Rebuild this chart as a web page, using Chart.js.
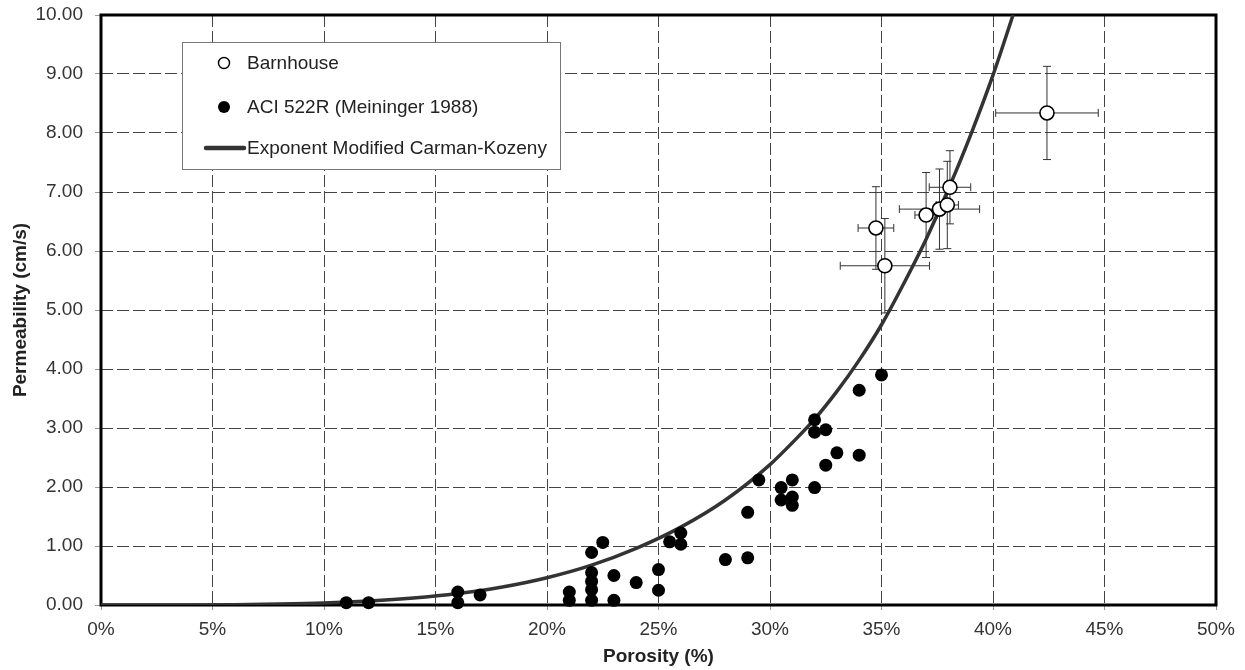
<!DOCTYPE html>
<html>
<head>
<meta charset="utf-8">
<script src="https://cdn.jsdelivr.net/npm/chart.js@4"></script>
<style>
  body { margin: 0; background: #fff; }
  canvas { display: block; }
</style>
</head>
<body>
<canvas id="chart" width="1245" height="670"></canvas>
<script>
// ---------------- Data (porosity in %, permeability in cm/s) ----------------
const barnX    = [34.75, 35.15, 37.0, 37.6, 37.95, 38.07, 42.42];
const barnY    = [6.39, 5.75, 6.61, 6.71, 6.78, 7.08, 8.34];
const barnXErr = [0.8, 2.0, 0.5, 1.8, 0.5, 0.93, 2.3];
const barnYErr = [0.70, 0.80, 0.72, 0.68, 0.74, 0.62, 0.79];

const aciX = [11, 12, 16, 16, 17, 21, 21, 22, 22, 22, 22, 22, 22.5, 23, 23, 24, 25, 25,
              25.5, 26, 26, 28, 29, 29, 29.5, 30.5, 30.5, 31, 31, 31, 32, 32, 32,
              32.5, 32.5, 33, 34, 34, 35];
const aciY = [0.04, 0.04, 0.22, 0.04, 0.17, 0.22, 0.08, 0.89, 0.55, 0.40, 0.26, 0.08, 1.06, 0.50, 0.08, 0.38, 0.60, 0.25,
              1.07, 1.22, 1.03, 0.77, 1.57, 0.80, 2.12, 1.99, 1.78, 2.12, 1.83, 1.69, 3.14, 2.93, 1.99,
              2.97, 2.37, 2.58, 3.64, 2.54, 3.90];

const curveX = [0, 2, 4, 6, 8, 10, 12, 14, 16, 18, 20, 22, 24, 26, 28, 30, 31, 32, 33, 34, 35, 36, 37, 38, 39, 40, 40.9];
const curveY = [0, 0, 0.001, 0.005, 0.015, 0.033, 0.066, 0.117, 0.194, 0.306, 0.463, 0.676, 0.96, 1.32, 1.78, 2.38,
                2.75, 3.15, 3.62, 4.15, 4.75, 5.45, 6.2, 7.05, 7.97, 8.98, 10.0];

const LEGEND = ['Barnhouse', 'ACI 522R (Meininger 1988)', 'Exponent Modified Carman-Kozeny'];

const FONT = '"Liberation Sans", Arial, sans-serif';
const toPts = (xs, ys) => xs.map((x, i) => ({ x, y: ys[i] }));

// ---------------- Plugins ----------------
const frame = {
  id: 'frame',
  beforeDatasetsDraw(chart) {
    const { ctx, chartArea: a } = chart;
    ctx.save();
    ctx.strokeStyle = '#000';
    ctx.lineWidth = 3;
    ctx.strokeRect(a.left, a.top, a.right - a.left, a.bottom - a.top);
    ctx.restore();
  },
};

const errorBars = {
  id: 'errorBars',
  beforeDatasetsDraw(chart) {
    const { ctx, scales: { x, y } } = chart;
    const cap = 4;
    ctx.save();
    ctx.strokeStyle = '#333';
    ctx.lineWidth = 1;
    barnX.forEach((bx, i) => {
      const px = x.getPixelForValue(bx), py = y.getPixelForValue(barnY[i]);
      const x0 = x.getPixelForValue(bx - barnXErr[i]), x1 = x.getPixelForValue(bx + barnXErr[i]);
      const y0 = y.getPixelForValue(barnY[i] - barnYErr[i]), y1 = y.getPixelForValue(barnY[i] + barnYErr[i]);
      ctx.beginPath();
      ctx.moveTo(x0, py); ctx.lineTo(x1, py);
      ctx.moveTo(x0, py - cap); ctx.lineTo(x0, py + cap);
      ctx.moveTo(x1, py - cap); ctx.lineTo(x1, py + cap);
      ctx.moveTo(px, y0); ctx.lineTo(px, y1);
      ctx.moveTo(px - cap, y0); ctx.lineTo(px + cap, y0);
      ctx.moveTo(px - cap, y1); ctx.lineTo(px + cap, y1);
      ctx.stroke();
    });
    ctx.restore();
  },
};

const boxLegend = {
  id: 'boxLegend',
  afterDraw(chart) {
    const ctx = chart.ctx;
    const bx = 182, by = 42, bw = 378, bh = 127;
    ctx.save();
    ctx.fillStyle = '#fff';
    ctx.fillRect(bx, by, bw, bh);
    ctx.strokeStyle = '#777';
    ctx.lineWidth = 1;
    ctx.strokeRect(bx + 0.5, by + 0.5, bw, bh);

    const rows = [63, 107, 148];
    // open circle
    ctx.beginPath();
    ctx.arc(224, rows[0], 5.5, 0, Math.PI * 2);
    ctx.strokeStyle = '#000';
    ctx.lineWidth = 1.4;
    ctx.stroke();
    // filled circle
    ctx.beginPath();
    ctx.arc(224, rows[1], 6, 0, Math.PI * 2);
    ctx.fillStyle = '#000';
    ctx.fill();
    // line
    ctx.beginPath();
    ctx.moveTo(206, rows[2]); ctx.lineTo(244, rows[2]);
    ctx.strokeStyle = '#333';
    ctx.lineWidth = 4.5;
    ctx.lineCap = 'round';
    ctx.stroke();

    ctx.fillStyle = '#222';
    ctx.font = '19px ' + FONT;
    ctx.textBaseline = 'middle';
    LEGEND.forEach((t, i) => ctx.fillText(t, 247, rows[i] + 1));
    ctx.restore();
  },
};

// ---------------- Chart ----------------
new Chart(document.getElementById('chart'), {
  type: 'scatter',
  data: {
    datasets: [
      {
        label: LEGEND[0],
        data: toPts(barnX, barnY),
        pointRadius: 7,
        pointBackgroundColor: '#fff',
        pointBorderColor: '#000',
        pointBorderWidth: 1.6,
        clip: false,
        order: 1,
      },
      {
        label: LEGEND[1],
        data: toPts(aciX, aciY),
        pointRadius: 6.5,
        pointBackgroundColor: '#000',
        pointBorderWidth: 0,
        clip: false,
        order: 2,
      },
      {
        type: 'line',
        label: LEGEND[2],
        data: toPts(curveX, curveY),
        borderColor: '#333',
        borderWidth: 3.5,
        pointRadius: 0,
        cubicInterpolationMode: 'monotone',
        fill: false,
        order: 3,
      },
    ],
  },
  options: {
    responsive: false,
    animation: false,
    layout: { autoPadding: false, padding: { top: 15, right: 29, left: 0, bottom: 0 } },
    plugins: { legend: { display: false }, tooltip: { enabled: false } },
    scales: {
      x: {
        type: 'linear',
        min: 0, max: 50,
        afterFit: (s) => { s.height = 65; s.paddingLeft = 0; s.paddingRight = 0; },
        ticks: {
          stepSize: 5,
          padding: 8,
          color: '#333',
          font: { family: FONT, size: 19 },
          callback: (v) => v + '%',
        },
        grid: { color: '#444', lineWidth: 1, tickLength: 5, tickColor: '#999', tickBorderDash: [] },
        border: { display: false, dash: [12, 4] },
        title: {
          display: true, text: 'Porosity (%)', color: '#222',
          font: { family: FONT, size: 19, weight: 'bold' },
          padding: { top: 0, bottom: 2 },
        },
      },
      y: {
        min: 0, max: 10,
        afterFit: (s) => { s.width = 101; s.paddingTop = 0; s.paddingBottom = 0; },
        ticks: {
          stepSize: 1,
          padding: 12,
          color: '#333',
          font: { family: FONT, size: 19 },
          callback: (v) => v.toFixed(2),
        },
        grid: { color: '#444', lineWidth: 1, tickLength: 6, tickColor: '#999', tickBorderDash: [] },
        border: { display: false, dash: [12, 4] },
        title: {
          display: true, text: 'Permeability (cm/s)', color: '#222',
          font: { family: FONT, size: 19, weight: 'bold' },
          padding: { top: 9, bottom: 0 },
        },
      },
    },
  },
  plugins: [frame, errorBars, boxLegend],
});
</script>
</body>
</html>
